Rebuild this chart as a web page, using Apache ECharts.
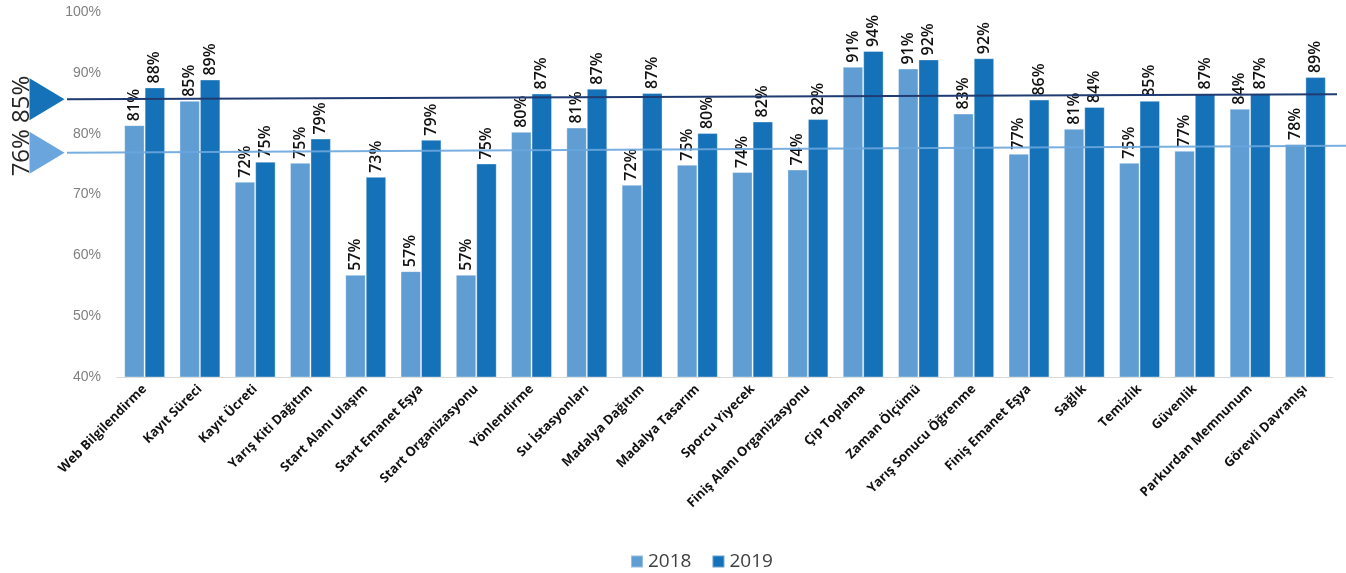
<!DOCTYPE html>
<html>
<head>
<meta charset="utf-8">
<script src="https://cdn.jsdelivr.net/npm/echarts@6/dist/echarts.min.js"></script>
<style>
html,body{margin:0;padding:0;background:#fff;}
#c{width:1346px;height:573px;}
</style>
</head>
<body>
<div id="c"></div>
<script>
const categories = ['Web Bilgilendirme','Kayıt Süreci','Kayıt Ücreti','Yarış Kiti Dağıtım','Start Alanı Ulaşım','Start Emanet Eşya','Start Organizasyonu','Yönlendirme','Su İstasyonları','Madalya Dağıtım','Madalya Tasarım','Sporcu Yiyecek','Finiş Alanı Organizasyonu','Çip Toplama','Zaman Ölçümü','Yarış Sonucu Öğrenme','Finiş Emanet Eşya','Sağlık','Temizlik','Güvenlik','Parkurdan Memnunum','Görevli Davranışı'];
const values2018 = [81.4,85.4,72.1,75.2,56.8,57.4,56.8,80.3,81.0,71.6,74.9,73.7,74.1,91.0,90.7,83.3,76.7,80.8,75.2,77.2,84.1,78.3];
const values2019 = [87.6,88.9,75.4,79.2,72.9,79.0,75.1,86.6,87.4,86.7,80.1,82.0,82.4,93.6,92.2,92.4,85.6,84.4,85.4,86.6,86.6,89.3];
const seriesNames = ['2018','2019'];
const yTicks = [40,50,60,70,80,90,100];
const avgLabels = ['85%','76%'];
const avgStart = [85.65, 76.87];
const avgEnd = [86.47, 78.02];

const chart = echarts.init(document.getElementById('c'), null, {renderer:'canvas'});
const labelCfg = {
  show: true, position: 'top', rotate: 90, align: 'left', verticalAlign: 'middle', distance: 4,
  fontFamily: 'Open Sans', fontSize: 16, fontWeight: 600, color: '#111',
  formatter: p => Math.round(p.value) + '%'
};
function avgMarkLine(i, color, endX) {
  return [{x: 67, yAxis: avgStart[i]}, {x: endX, yAxis: avgEnd[i], lineStyle: {color: color}}];
}
function avgMarkPoint(i, color) {
  return {
    silent: true, symbol: 'triangle', symbolSize: [42, 35], symbolRotate: -90,
    itemStyle: {color: color},
    label: {show: true, position: 'left', rotate: 90, distance: 7, fontFamily: 'Open Sans', fontSize: 24, color: '#262626', align: 'center', verticalAlign: 'middle',
      formatter: () => avgLabels[i]},
    data: [{x: 47, yAxis: avgStart[i]}]
  };
}
chart.setOption({
  animation: false,
  grid: {left: 117, right: 13, top: 12, bottom: 196, containLabel: false},
  legend: {
    data: seriesNames, left: 625, top: 547, itemWidth: 12, itemHeight: 12, itemGap: 20,
    icon: 'rect', textStyle: {fontFamily: 'Open Sans', fontSize: 19, color: '#404040'}
  },
  xAxis: {
    type: 'category', data: categories,
    axisLine: {show: true, lineStyle: {color: '#d9d9d9', width: 1}},
    axisTick: {show: false},
    axisLabel: {interval: 0, rotate: 45, margin: 10, fontFamily: 'Open Sans', fontWeight: 'bold', fontSize: 13, color: '#111'}
  },
  yAxis: {
    type: 'value', min: yTicks[0], max: yTicks[yTicks.length-1], interval: 10,
    splitLine: {show: false}, axisLine: {show: false}, axisTick: {show: false},
    axisLabel: {formatter: v => v + '%', margin: 16, fontFamily: 'Liberation Sans', fontSize: 14, color: '#808080'}
  },
  series: [
    {
      name: seriesNames[0], type: 'bar', data: values2018, barGap: '0%', barCategoryGap: '26%',
      itemStyle: {color: '#5f9dd3', borderColor: 'rgba(255,255,255,0.35)', borderWidth: 1},
      label: labelCfg,
      markLine: {
        silent: true, symbol: ['none','none'], label: {show: false}, z: 10,
        lineStyle: {type: 'solid', width: 2, color: '#6aa6dd', opacity: 0.9},
        data: [avgMarkLine(1, '#6aa6dd', 1346)]
      },
      markPoint: avgMarkPoint(1, '#6aa6dd')
    },
    {
      name: seriesNames[1], type: 'bar', data: values2019,
      itemStyle: {color: '#1572b8', borderColor: 'rgba(255,255,255,0.35)', borderWidth: 1},
      label: labelCfg,
      markLine: {
        silent: true, symbol: ['none','none'], label: {show: false}, z: 10,
        lineStyle: {type: 'solid', width: 2, color: '#1f3b72'},
        data: [avgMarkLine(0, '#1f3b72', 1337)]
      },
      markPoint: avgMarkPoint(0, '#1572b8')
    }
  ]
});
</script>
</body>
</html>
